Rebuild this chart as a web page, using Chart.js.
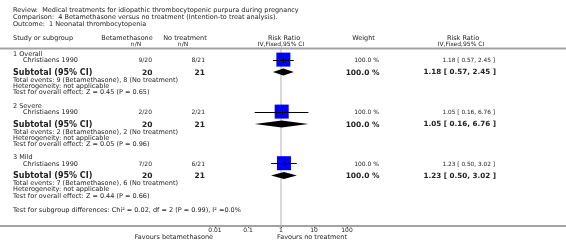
<!DOCTYPE html>
<html>
<head>
<meta charset="utf-8">
<script src="https://cdn.jsdelivr.net/npm/chart.js@4.4.1/dist/chart.umd.min.js"></script>
<style>
  html, body { margin: 0; padding: 0; background: #fff; }
  #plot { display: block; }
</style>
</head>
<body>
<canvas id="plot" width="566" height="249"></canvas>
<script>
// data
const subgroups = ['1 Overall', '2 Severe', '3 Mild'];
const studies = ['Christiaens 1990', 'Christiaens 1990', 'Christiaens 1990'];
const betaEvents = [9, 2, 7];
const betaTotal = [20, 20, 20];
const noTxEvents = [8, 2, 6];
const noTxTotal = [21, 21, 21];
const riskRatio = [1.18, 1.05, 1.23];
const ciLow = [0.57, 0.16, 0.50];
const ciHigh = [2.45, 6.76, 3.02];
const weights = [100.0, 100.0, 100.0];
const zValues = [0.45, 0.05, 0.44];
const pValues = [0.65, 0.96, 0.66];
const axisTicks = [0.01, 0.1, 1, 10, 100];

// one study per subgroup, so the subtotal equals the study result
const FONT = "'DejaVu Sans'";
const TEXT = '#222';

// row layout (pixels from top of canvas)
const blockTop = [54, 106, 157.6];
const rowOffset = { title: 0, study: 6.6, subtotal: 18.6, events: 26, hetero: 32.2, test: 38.3 };
const rowY = (i, key) => blockTop[i] + rowOffset[key];

const fmt = (v) => v.toFixed(2);

function text(ctx, str, x, y, opts = {}) {
    ctx.save();
    ctx.font = (opts.bold ? 'bold ' : '') + (opts.size || 6.5) + 'px ' + FONT;
    ctx.fillStyle = opts.color || TEXT;
    ctx.textAlign = opts.align || 'left';
    ctx.textBaseline = 'middle';
    ctx.fillText(str, x, y);
    ctx.restore();
}

const forestPlugin = {
    id: 'forest',
    beforeDatasetsDraw(chart) {
        const { ctx } = chart;
        const x = chart.scales.x;
        const y = chart.scales.y;
        // line of no effect
        ctx.save();
        ctx.strokeStyle = '#d9d9d9';
        ctx.lineWidth = 2;
        ctx.beginPath();
        ctx.moveTo(x.getPixelForValue(1), y.getPixelForValue(49));
        ctx.lineTo(x.getPixelForValue(1), y.getPixelForValue(226));
        ctx.stroke();
        ctx.restore();
    },
    afterDatasetsDraw(chart) {
        const { ctx } = chart;
        const x = chart.scales.x;
        const y = chart.scales.y;
        ctx.save();
        subgroups.forEach((_, i) => {
            // confidence interval of the study
            const sy = Math.round(y.getPixelForValue(rowY(i, 'study') - 1)) + 0.5;
            ctx.strokeStyle = '#000';
            ctx.lineWidth = 1;
            ctx.beginPath();
            ctx.moveTo(x.getPixelForValue(ciLow[i]), sy);
            ctx.lineTo(x.getPixelForValue(ciHigh[i]), sy);
            const ex = Math.round(x.getPixelForValue(riskRatio[i])) + 0.5;
            ctx.moveTo(ex, sy - 2.5);
            ctx.lineTo(ex, sy + 2.5);
            ctx.stroke();

            // pooled diamond
            const dy = y.getPixelForValue(rowY(i, 'subtotal') - 0.6);
            ctx.fillStyle = '#000';
            ctx.beginPath();
            ctx.moveTo(x.getPixelForValue(ciLow[i]), dy);
            ctx.lineTo(x.getPixelForValue(riskRatio[i]), dy - 3.5);
            ctx.lineTo(x.getPixelForValue(ciHigh[i]), dy);
            ctx.lineTo(x.getPixelForValue(riskRatio[i]), dy + 3.5);
            ctx.closePath();
            ctx.fill();
        });
        ctx.restore();
    },
    afterDraw(chart) {
        const { ctx } = chart;
        const W = chart.width;

        // rules
        ctx.save();
        ctx.fillStyle = '#a3a3a3';
        ctx.fillRect(0, 47.5, W, 2);
        ctx.fillRect(0, 225, W, 2);
        ctx.restore();

        // heading
        text(ctx, 'Review:  Medical treatments for idiopathic thrombocytopenic purpura during pregnancy', 13, 10);
        text(ctx, 'Comparison:  4 Betamethasone versus no treatment (Intention-to treat analysis).', 13, 17);
        text(ctx, 'Outcome:  1 Neonatal thrombocytopenia', 13, 24.3);

        // column headings
        text(ctx, 'Study or subgroup', 13, 38.5);
        text(ctx, 'Betamethasone', 127, 38.5, { align: 'center' });
        text(ctx, 'n/N', 136, 44, { align: 'center', size: 6 });
        text(ctx, 'No treatment', 185, 38.5, { align: 'center' });
        text(ctx, 'n/N', 183, 44, { align: 'center', size: 6 });
        text(ctx, 'Risk Ratio', 284, 38, { align: 'center' });
        text(ctx, 'IV,Fixed,95% CI', 281, 44, { align: 'center', size: 6 });
        text(ctx, 'Weight', 363.5, 38.5, { align: 'center' });
        text(ctx, 'Risk Ratio', 463, 38, { align: 'center' });
        text(ctx, 'IV,Fixed,95% CI', 461, 44, { align: 'center', size: 6 });

        subgroups.forEach((name, i) => {
            text(ctx, name, 13, rowY(i, 'title'));
            text(ctx, studies[i], 23, rowY(i, 'study'));
            text(ctx, betaEvents[i] + '/' + betaTotal[i], 152, rowY(i, 'study'), { align: 'right', size: 6 });
            text(ctx, noTxEvents[i] + '/' + noTxTotal[i], 205, rowY(i, 'study'), { align: 'right', size: 6 });
            text(ctx, weights[i].toFixed(1) + ' %', 379, rowY(i, 'study'), { align: 'right', size: 6 });
            text(ctx, fmt(riskRatio[i]) + ' [ ' + fmt(ciLow[i]) + ', ' + fmt(ciHigh[i]) + ' ]', 495, rowY(i, 'study'), { align: 'right', size: 5.8 });

            text(ctx, 'Subtotal (95% CI)', 13, rowY(i, 'subtotal'), { bold: true, size: 8 });
            text(ctx, String(betaTotal[i]), 152.5, rowY(i, 'subtotal'), { bold: true, size: 7.5, align: 'right' });
            text(ctx, String(noTxTotal[i]), 205, rowY(i, 'subtotal'), { bold: true, size: 7.5, align: 'right' });
            text(ctx, weights[i].toFixed(1) + ' %', 379.5, rowY(i, 'subtotal'), { bold: true, size: 7.5, align: 'right' });
            text(ctx, fmt(riskRatio[i]) + ' [ ' + fmt(ciLow[i]) + ', ' + fmt(ciHigh[i]) + ' ]', 496, rowY(i, 'subtotal'), { bold: true, size: 7.2, align: 'right' });

            text(ctx, 'Total events: ' + betaEvents[i] + ' (Betamethasone), ' + noTxEvents[i] + ' (No treatment)', 13, rowY(i, 'events'));
            text(ctx, 'Heterogeneity: not applicable', 13, rowY(i, 'hetero'));
            text(ctx, 'Test for overall effect: Z = ' + zValues[i].toFixed(2) + ' (P = ' + pValues[i].toFixed(2) + ')', 13, rowY(i, 'test'));
        });

        text(ctx, 'Test for subgroup differences: Chi\u00B2 = 0.02, df = 2 (P = 0.99), I\u00B2 =0.0%', 13, 210);

        text(ctx, 'Favours betamethasone', 213, 237.5, { align: 'right' });
        text(ctx, 'Favours no treatment', 277, 237.5);
    }
};

new Chart(document.getElementById('plot'), {
    type: 'scatter',
    data: {
        datasets: [{
            label: 'Studies',
            data: subgroups.map((_, i) => ({ x: riskRatio[i], y: rowY(i, 'study') - 1 })),
            pointStyle: 'rect',
            pointRadius: weights.map(w => 7 * Math.sqrt(w / 100) / Math.SQRT1_2),
            pointHoverRadius: weights.map(w => 7 * Math.sqrt(w / 100) / Math.SQRT1_2),
            backgroundColor: '#0000ff',
            borderColor: '#0000ff',
            borderWidth: 0
        }]
    },
    options: {
        responsive: false,
        devicePixelRatio: 1,
        animation: false,
        events: [],
        clip: false,
        layout: { autoPadding: false, padding: { left: 215, right: 219, top: 0, bottom: 0 } },
        plugins: { legend: { display: false }, tooltip: { enabled: false } },
        scales: {
            x: {
                type: 'logarithmic',
                min: 0.01,
                max: 100,
                afterFit(scale) { scale.height = 23; },
                afterBuildTicks(scale) { scale.ticks = axisTicks.map(v => ({ value: v })); },
                border: { display: false },
                grid: { drawOnChartArea: false, drawTicks: true, tickLength: 2, color: '#555', lineWidth: 1 },
                ticks: {
                    autoSkip: false,
                    maxRotation: 0,
                    padding: -1,
                    color: TEXT,
                    font: { family: 'DejaVu Sans', size: 6 },
                    callback: (v) => String(v)
                }
            },
            y: {
                type: 'linear',
                display: false,
                reverse: true,
                min: 0,
                max: 226
            }
        }
    },
    plugins: [forestPlugin]
});
</script>
</body>
</html>
